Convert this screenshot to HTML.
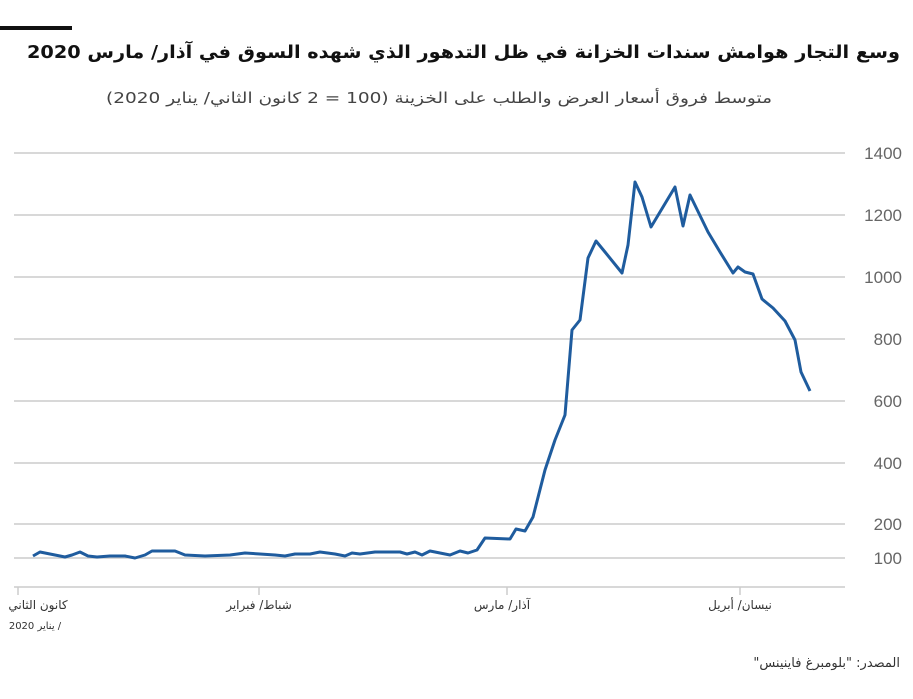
<!DOCTYPE html>
<html><head><meta charset="utf-8"><style>
body{margin:0;background:#fff;width:913px;height:694px;overflow:hidden;font-family:"Liberation Sans","Noto Sans CJK SC",sans-serif}
</style></head><body>
<svg width="913" height="694" xmlns="http://www.w3.org/2000/svg">
<rect x="0" y="26" width="72" height="4" fill="#111"/>
<text x="900" y="58" text-anchor="start" font-family="DejaVu Sans, sans-serif" font-weight="bold" font-size="18" fill="#111" direction="rtl" textLength="873" lengthAdjust="spacingAndGlyphs">وسع التجار هوامش سندات الخزانة في ظل التدهور الذي شهده السوق في آذار/ مارس 2020</text>
<text x="772" y="103" text-anchor="start" font-family="DejaVu Sans, sans-serif" font-size="15" fill="#444" direction="rtl" textLength="666" lengthAdjust="spacingAndGlyphs">متوسط فروق أسعار العرض والطلب على الخزينة (100 = 2 كانون الثاني/ يناير 2020)</text>
<g stroke="#ccc" stroke-width="1.5">
<line x1="14" y1="153" x2="845" y2="153"/><line x1="14" y1="215" x2="845" y2="215"/>
<line x1="14" y1="277" x2="845" y2="277"/><line x1="14" y1="339" x2="845" y2="339"/>
<line x1="14" y1="401" x2="845" y2="401"/><line x1="14" y1="463" x2="845" y2="463"/>
<line x1="14" y1="524" x2="845" y2="524"/><line x1="14" y1="558" x2="845" y2="558"/>
<line x1="14" y1="587" x2="845" y2="587"/>
<line x1="18" y1="587" x2="18" y2="595"/><line x1="259" y1="587" x2="259" y2="595"/>
<line x1="507" y1="587" x2="507" y2="595"/><line x1="740" y1="587" x2="740" y2="595"/>
</g>
<g font-family="Liberation Sans, sans-serif" font-size="17" fill="#666" text-anchor="end">
<text x="902" y="159">1400</text><text x="902" y="221">1200</text><text x="902" y="283">1000</text>
<text x="902" y="345">800</text><text x="902" y="407">600</text><text x="902" y="469">400</text>
<text x="902" y="530">200</text><text x="902" y="564">100</text>
</g>
<g font-family="DejaVu Sans, sans-serif" font-size="12" fill="#333" text-anchor="middle">
<text x="38" y="609" direction="rtl">كانون الثاني</text>
<text x="35" y="629" font-size="10" direction="rtl">/ يناير 2020</text>
<text x="259" y="609" direction="rtl">شباط/ فبراير</text>
<text x="502" y="609" direction="rtl">آذار/ مارس</text>
<text x="740" y="609" direction="rtl">نيسان/ أبريل</text>
<text x="900" y="667" text-anchor="start" font-size="13" direction="rtl">المصدر: "بلومبرغ فاينينس"</text>
</g>
<polyline fill="none" stroke="#1f5c9e" stroke-width="3" stroke-linejoin="round" points="33,556 40,552 50,554 65,557 72,555 80,552 88,556 97,557 110,556 125,556 135,558 145,555 152,551 175,551 185,555 205,556 230,555 245,553 260,554 275,555 285,556 295,554 310,554 320,552 335,554 345,556 352,553 360,554 375,552 400,552 407,554 415,552 422,555 430,551 450,555 460,551 468,553 477,550 485,538 510,539 516,529 525,531 533,517 545,470 555,440 565,415 572,330 580,320 588,258 596,241 605,252 622,273 628,245 635,182 642,197 651,227 675,187 683,226 690,195 708,232 720,252 733,273 738,267 745,272 753,274 762,299 773,308 785,321 795,340 801,372 810,391"/>
</svg>
</body></html>
